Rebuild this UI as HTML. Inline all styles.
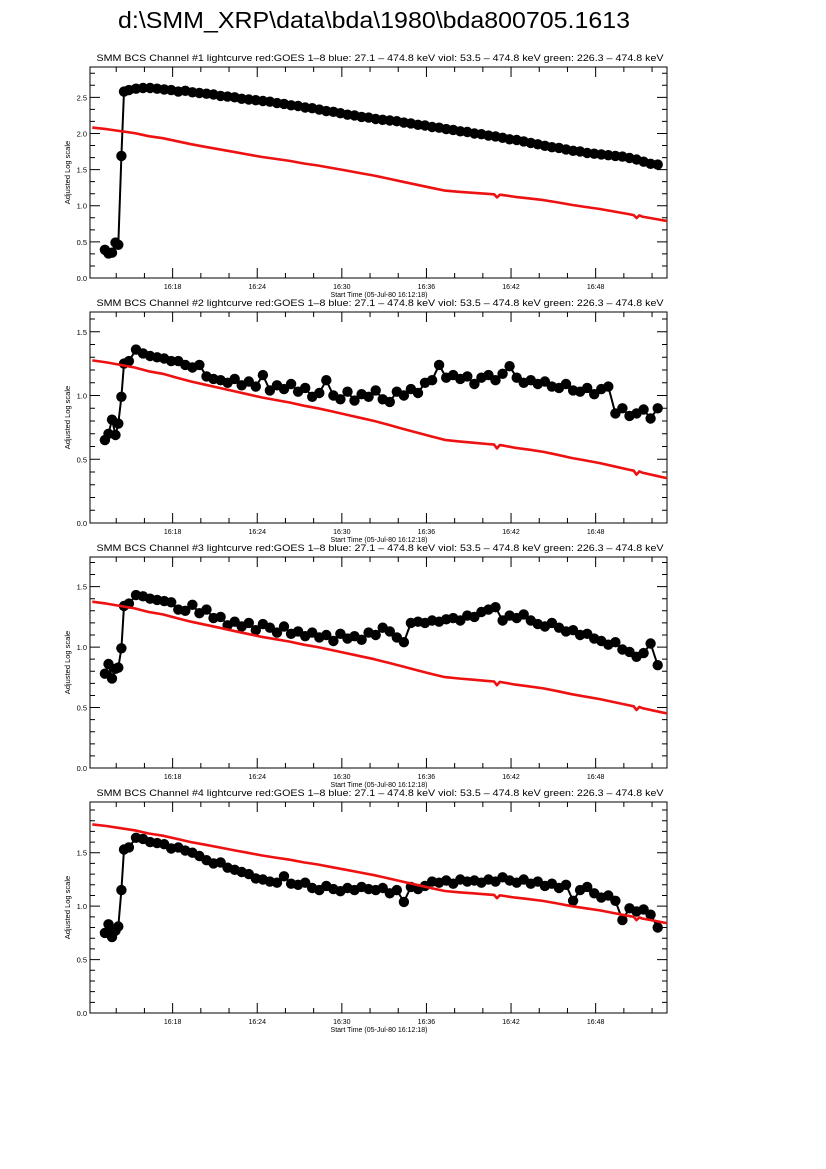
<!DOCTYPE html>
<html><head><meta charset="utf-8"><style>
html,body{margin:0;padding:0;background:#fff;}
svg{display:block;font-family:"Liberation Sans",sans-serif;}
</style></head><body>
<svg id="chart" width="826" height="1169" viewBox="0 0 826 1169" xmlns="http://www.w3.org/2000/svg">
<rect width="826" height="1169" fill="#fff"/>
<text x="374" y="28" font-size="23" text-anchor="middle" textLength="512" lengthAdjust="spacingAndGlyphs">d:\SMM_XRP\data\bda\1980\bda800705.1613</text>
</svg>
<script>
// ---- data ----
const earlyT = [0.9,1.15,1.4,1.65,1.85,2.07,2.25];
const mainT = [2.6,3.1,3.6,4.1,4.6,5.1,5.6,6.1,6.6,7.1,7.6,8.1,8.6,9.1,9.6,10.1,10.6,11.1,11.6,12.1,12.6,13.1,13.6,14.1,14.6,15.1,15.6,16.1,16.6,17.1,17.6,18.1,18.6,19.1,19.6,20.1,20.6,21.1,21.6,22.1,22.6,23.1,23.6,24.1,24.6,25.1,25.6,26.1,26.6,27.1,27.6,28.1,28.6,29.1,29.6,30.1,30.6,31.1,31.6,32.1,32.6,33.1,33.6,34.1,34.6,35.1,35.6,36.1,36.6,37.1,37.6,38.1,38.6,39.1,39.6,40.1];
const bcsT = earlyT.concat(mainT);
const bcs1 = [0.39,0.34,0.35,0.49,0.46,1.69,2.58,
2.60,2.62,2.63,2.63,2.62,2.61,2.60,2.58,2.59,2.57,2.56,2.55,2.54,2.52,2.51,2.50,2.48,2.47,2.46,2.45,2.44,2.42,2.41,2.39,2.38,2.36,2.35,2.33,2.31,2.30,2.28,2.26,2.25,2.23,2.22,2.20,2.19,2.18,2.17,2.15,2.14,2.12,2.11,2.09,2.08,2.06,2.05,2.03,2.02,2.00,1.99,1.97,1.96,1.94,1.92,1.91,1.89,1.87,1.85,1.83,1.81,1.80,1.78,1.76,1.75,1.73,1.72,1.71,1.70,1.69,1.68,1.66,1.64,1.61,1.58,1.57];
const bcs2 = [0.65,0.70,0.81,0.69,0.78,0.99,1.25,
1.27,1.36,1.33,1.31,1.30,1.29,1.27,1.27,1.24,1.22,1.24,1.15,1.13,1.12,1.10,1.13,1.08,1.11,1.07,1.16,1.04,1.08,1.05,1.09,1.03,1.06,0.99,1.02,1.12,1.00,0.97,1.03,0.96,1.01,0.99,1.04,0.97,0.95,1.03,1.00,1.05,1.02,1.10,1.12,1.24,1.14,1.16,1.13,1.15,1.09,1.14,1.16,1.12,1.17,1.23,1.14,1.10,1.12,1.09,1.11,1.07,1.06,1.09,1.04,1.03,1.06,1.01,1.05,1.07,0.86,0.90,0.84,0.86,0.89,0.82,0.90];
const bcs3 = [0.78,0.86,0.74,0.82,0.83,0.99,1.34,
1.36,1.43,1.42,1.40,1.39,1.38,1.37,1.31,1.30,1.35,1.28,1.31,1.24,1.25,1.18,1.21,1.17,1.20,1.14,1.19,1.16,1.12,1.17,1.11,1.13,1.09,1.12,1.08,1.10,1.05,1.11,1.07,1.09,1.06,1.12,1.10,1.16,1.13,1.08,1.04,1.20,1.21,1.20,1.22,1.21,1.23,1.24,1.22,1.26,1.25,1.29,1.31,1.33,1.22,1.26,1.24,1.27,1.22,1.19,1.17,1.20,1.16,1.13,1.14,1.10,1.11,1.07,1.05,1.02,1.04,0.98,0.96,0.92,0.95,1.03,0.85];
const bcs4 = [0.75,0.83,0.71,0.77,0.81,1.15,1.53,
1.55,1.64,1.63,1.60,1.59,1.58,1.54,1.55,1.52,1.50,1.47,1.43,1.40,1.41,1.36,1.34,1.32,1.30,1.26,1.25,1.23,1.22,1.28,1.21,1.20,1.22,1.17,1.15,1.19,1.16,1.14,1.17,1.15,1.18,1.16,1.15,1.17,1.12,1.15,1.04,1.18,1.16,1.19,1.23,1.22,1.24,1.21,1.25,1.23,1.24,1.22,1.25,1.23,1.27,1.24,1.22,1.25,1.21,1.23,1.19,1.21,1.17,1.20,1.05,1.15,1.18,1.12,1.08,1.10,1.05,0.87,0.98,0.95,0.97,0.92,0.80];
const goesT = [0,1,2,3,4,5,6,7,8,9,10,11,12,13,14,15,16,17,18,19,20,21,22,23,24,25,26,27,28,28.5,28.7,28.9,29,30,31,32,33,34,35,36,37,38,38.4,38.6,38.8,39,40,41];
const goes1 = [2.082,2.061,2.033,2.005,1.963,1.935,1.893,1.851,1.816,1.781,1.746,1.711,1.676,1.648,1.620,1.585,1.557,1.522,1.487,1.452,1.417,1.375,1.333,1.291,1.249,1.210,1.193,1.179,1.165,1.158,1.115,1.152,1.151,1.123,1.102,1.078,1.046,1.011,0.983,0.955,0.920,0.885,0.871,0.830,0.866,0.850,0.815,0.780];
const goes2 = [1.275,1.26,1.24,1.22,1.19,1.17,1.14,1.11,1.085,1.06,1.035,1.01,0.985,0.965,0.945,0.92,0.90,0.875,0.85,0.825,0.80,0.77,0.74,0.71,0.68,0.652,0.64,0.63,0.62,0.615,0.585,0.612,0.61,0.59,0.575,0.558,0.535,0.51,0.49,0.47,0.445,0.42,0.41,0.38,0.405,0.395,0.37,0.345];
const goes3 = [1.375,1.36,1.34,1.32,1.29,1.27,1.24,1.21,1.185,1.16,1.135,1.11,1.085,1.065,1.045,1.02,1.00,0.975,0.95,0.925,0.90,0.87,0.84,0.81,0.78,0.752,0.74,0.73,0.72,0.715,0.685,0.712,0.71,0.69,0.675,0.658,0.635,0.61,0.59,0.57,0.545,0.52,0.51,0.48,0.505,0.495,0.47,0.445];
const goes4 = [1.765,1.75,1.73,1.71,1.68,1.66,1.63,1.60,1.575,1.55,1.525,1.50,1.475,1.455,1.435,1.41,1.39,1.365,1.34,1.315,1.29,1.26,1.23,1.20,1.17,1.142,1.13,1.12,1.11,1.105,1.075,1.102,1.10,1.08,1.065,1.048,1.025,1.00,0.98,0.96,0.935,0.91,0.90,0.87,0.895,0.885,0.86,0.835];
const yMaxes = [2.92,1.655,1.745,1.975];
const yMinorSteps = [0.5/3,0.1,0.1,0.1];
const yTickLabels = ["0.0","0.5","1.0","1.5","2.0","2.5"];
const xTickLabels = ["16:18","16:24","16:30","16:36","16:42","16:48"];
const xTickMin = [5.7,11.7,17.7,23.7,29.7,35.7];
const bcsSeries = [bcs1,bcs2,bcs3,bcs4];
const goesSeries = [goes1,goes2,goes3,goes4];
const channelNames = ["#1","#2","#3","#4"];

// ---- layout ----
const NS = "http://www.w3.org/2000/svg";
const svg = document.getElementById('chart');
const L = 90, R = 667, H = 211;
const tops = [67,312,557,802];
const tMin = -0.16, tMax = 40.76;
function xS(t){ return L + (t - tMin) / (tMax - tMin) * (R - L); }
function mk(tag, attrs, parent){
  const e = document.createElementNS(NS, tag);
  for (const k in attrs) e.setAttribute(k, attrs[k]);
  (parent || svg).appendChild(e);
  return e;
}
for (let p = 0; p < 4; p++) {
  const top = tops[p], bot = top + H, ymax = yMaxes[p];
  const yS = v => bot - v / ymax * H;
  const g = mk('g', {});
  
  

  const st = mk('text', {x: 380, y: top - 6, 'font-size': 9.5, 'text-anchor': 'middle', textLength: 567, lengthAdjust: 'spacingAndGlyphs'}, g);
  st.textContent = 'SMM BCS Channel ' + channelNames[p] + ' lightcurve  red:GOES 1\u20138  blue: 27.1 \u2013 474.8 keV  viol: 53.5 \u2013 474.8 keV  green: 226.3 \u2013 474.8 keV';
  
  

  const frame = mk('rect', {x: L, y: top, width: R - L, height: H, fill: 'none', stroke: '#000', 'stroke-width': 1}, g);
  
  

  const ms = yMinorSteps[p];
  const nMinor = Math.floor(ymax / ms + 1e-6);
  let tp = '';
  for (let i = 0; i <= nMinor; i++) {
    const v = i * ms, y = yS(v);
    const major = Math.abs(v / 0.5 - Math.round(v / 0.5)) < 1e-6;
    const len = major ? 10 : 5;
    tp += `M${L},${y}h${len}M${R},${y}h${-len}`;
  }
  for (let m = 1.7; m < tMax; m += 2) {
    const x = xS(m);
    const major = xTickMin.some(t => Math.abs(t - m) < 0.01);
    const len = major ? 10 : 5;
    tp += `M${x},${bot}v${-len}M${x},${top}v${len}`;
  }
  const ticks = mk('path', {d: tp, stroke: '#000', 'stroke-width': 1, fill: 'none'}, g);
  
  

  for (let i = 0; i < yTickLabels.length; i++) {
    const v = i * 0.5;
    if (v > ymax) break;
    const t = mk('text', {x: L - 3, y: yS(v) + 3, 'font-size': 7.5, 'text-anchor': 'end'}, g);
    t.textContent = yTickLabels[i];
    
    
  }
  for (let i = 0; i < xTickLabels.length; i++) {
    const t = mk('text', {x: xS(xTickMin[i]), y: bot + 11, 'font-size': 7, 'text-anchor': 'middle'}, g);
    t.textContent = xTickLabels[i];
    
    
  }
  const xt = mk('text', {x: 379, y: bot + 19, 'font-size': 7, 'text-anchor': 'middle'}, g);
  xt.textContent = 'Start Time (05-Jul-80 16:12:18)';
  
  
  const yt = mk('text', {x: 0, y: 0, 'font-size': 7.5, 'text-anchor': 'middle', transform: `translate(70,${top + H/2}) rotate(-90)`}, g);
  yt.textContent = 'Adjusted Log scale';
  
  

  const cp = mk('clipPath', {id: 'clip' + p}, g);
  mk('rect', {x: L, y: top, width: R - L, height: H}, cp);

  const bv = bcsSeries[p];
  let d = '';
  for (let i = 0; i < bcsT.length; i++) d += (i ? 'L' : 'M') + xS(bcsT[i]).toFixed(1) + ',' + yS(bv[i]).toFixed(1);
  const bl = mk('path', {d: d, stroke: '#000', 'stroke-width': 2, fill: 'none', 'clip-path': `url(#clip${p})`}, g);
  
  
  for (let i = 0; i < bcsT.length; i++) {
    const c = mk('circle', {cx: xS(bcsT[i]).toFixed(1), cy: yS(bv[i]).toFixed(1), r: 5.2, fill: '#000'}, g);
    
    
  }
  const gv = goesSeries[p];
  let gd = '';
  for (let i = 0; i < goesT.length; i++) gd += (i ? 'L' : 'M') + xS(goesT[i]).toFixed(1) + ',' + yS(gv[i]).toFixed(1);
  const gl = mk('path', {d: gd, stroke: '#ee1111', 'stroke-width': 2.6, fill: 'none', 'stroke-linejoin': 'round', 'clip-path': `url(#clip${p})`}, g);
  
  
}
</script>
</body></html>
